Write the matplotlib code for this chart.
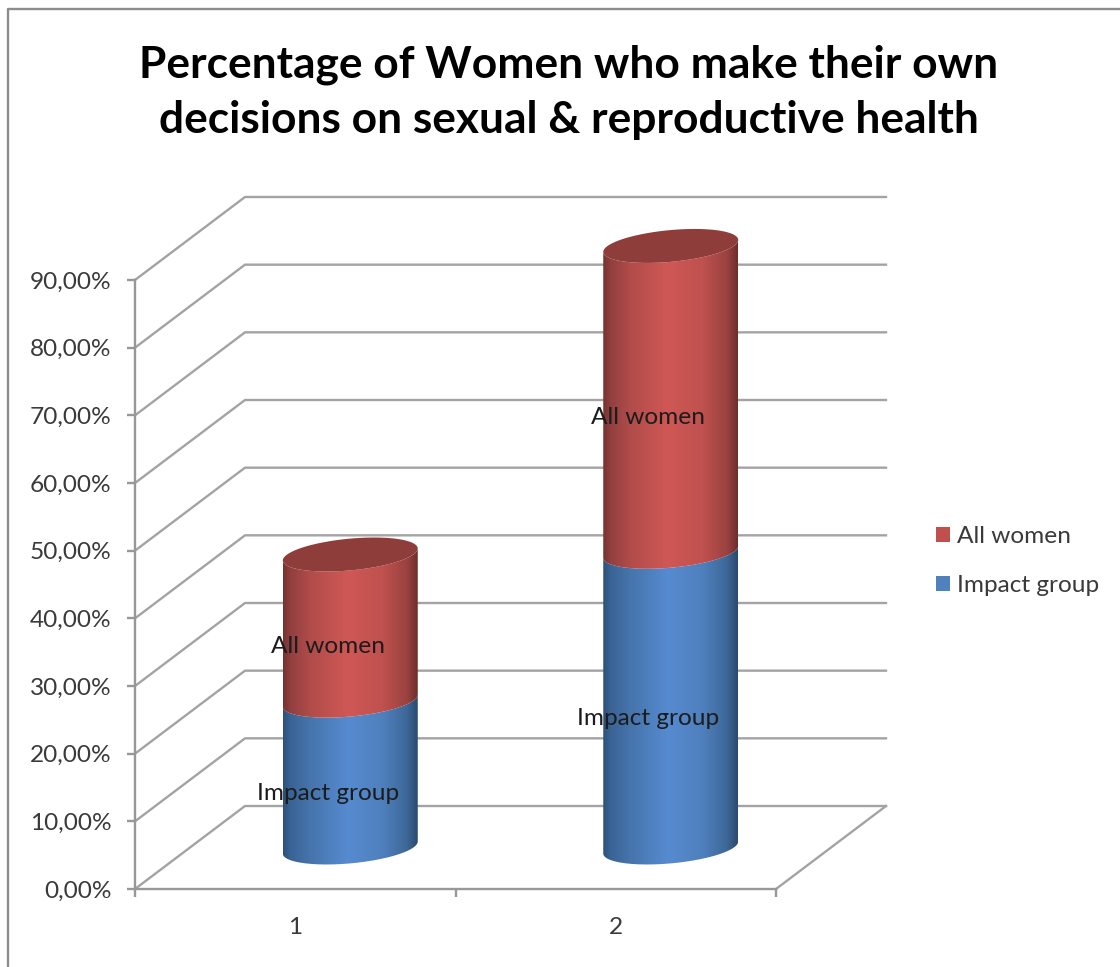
import numpy as np
import matplotlib
matplotlib.use("Agg")
from matplotlib import pyplot as plt
from matplotlib.colors import LinearSegmentedColormap
from matplotlib.lines import Line2D
from matplotlib.patches import Patch, PathPatch, Polygon
from matplotlib.path import Path
from matplotlib.ticker import FuncFormatter

categories = [1, 2]
impact_group = [21.7, 43.7]
all_women = [21.6, 45.2]
y_ticks = [0, 10, 20, 30, 40, 50, 60, 70, 80, 90]
title = "Percentage of Women who make their own\ndecisions on sexual & reproductive health"

W, H = 1120, 967
plt.rcParams["font.family"] = ["Lato", "DejaVu Sans"]

GRID = "#a3a3a3"
AXIS = "#979797"
FS = 17.6

fig = plt.figure(figsize=(W / 100, H / 100), dpi=100)
ax = fig.add_axes([135 / W, (H - 889) / H, 641 / W, 609 / H])
ax.set_xlim(0.5, 2.5)
ax.set_ylim(0, 90)

# size of one pixel in data units
px = 2.0 / 641
py = 90.0 / 609

# 3d depth of the floor
depth_x = 110 * px
depth_y = 83 * py

bar_half = 67.5 * px
ell_b = 15.9 * py
ell_tilt = 6.0 * py

blue_cmap = LinearSegmentedColormap.from_list("blue3d", [
    (0.0, "#2e5179"), (0.06, "#3a6496"), (0.2, "#4674ab"), (0.48, "#568bd0"),
    (0.74, "#4f80bd"), (0.92, "#3d6797"), (1.0, "#2b4a6f")])
red_cmap = LinearSegmentedColormap.from_list("red3d", [
    (0.0, "#763230"), (0.06, "#934040"), (0.2, "#b04c4a"), (0.48, "#cf5855"),
    (0.74, "#bf514e"), (0.92, "#9a4240"), (1.0, "#6c2e2c")])
gradient = np.linspace(0, 1, 256).reshape(1, -1)


def ellipse_arc(cx, cy, t0, t1):
    t = np.linspace(t0, t1, 80)
    return np.column_stack([cx + bar_half * np.cos(t),
                            cy + ell_tilt * np.cos(t) + ell_b * np.sin(t)])


def draw_segment(cx, y0, y1, cmap, z):
    # front face of one cylinder section, shaded from side to side
    lower = ellipse_arc(cx, y0, np.pi, 2 * np.pi)
    upper = ellipse_arc(cx, y1, 2 * np.pi, np.pi)
    verts = np.vstack([lower, upper, lower[:1]])
    im = ax.imshow(gradient, cmap=cmap, aspect="auto", zorder=z,
                   extent=[cx - bar_half, cx + bar_half, y0 - 4, y1 + 4])
    # the tallest bar rises above the y limit, so only the outline clips it
    im.set_clip_box(fig.bbox)
    im.set_clip_path(PathPatch(Path(verts), transform=ax.transData))


# walls and floor
for v in y_ticks:
    ax.plot([0.5, 0.5 + depth_x, 2.5 + depth_x], [v, v + depth_y, v + depth_y],
            color=GRID, lw=1.7, clip_on=False, zorder=1)
ax.plot([2.5, 2.5 + depth_x], [0, depth_y], color=GRID, lw=1.7, clip_on=False, zorder=1)

# cylinders
for i, cat in enumerate(categories):
    cx = cat + depth_x / 2
    base = depth_y / 2
    mid = base + impact_group[i]
    top = mid + all_women[i]
    draw_segment(cx, base, mid, blue_cmap, 3)
    draw_segment(cx, mid, top, red_cmap, 4)
    cap = ellipse_arc(cx, top, 0, 2 * np.pi)
    ax.add_patch(Polygon(cap, closed=True, fc="#8f3d3a", ec="none", zorder=5, clip_on=False))

    # series names sit slightly left of and below each section's middle
    lx = cx - 22.5 * px
    ax.text(lx, base + impact_group[i] / 2 - 19 * py, "Impact group", ha="center", va="center",
            fontsize=FS, color="#1c1c1c", zorder=6)
    ax.text(lx, mid + all_women[i] / 2 - 19 * py, "All women", ha="center", va="center",
            fontsize=FS, color="#1c1c1c", zorder=6)

ax.set_xlim(0.5, 2.5)
ax.set_ylim(0, 90)

# axes
ax.patch.set_visible(False)
for side in ["top", "right"]:
    ax.spines[side].set_visible(False)
for side in ["left", "bottom"]:
    ax.spines[side].set_color(AXIS)
    ax.spines[side].set_linewidth(1.7)
ax.set_yticks(y_ticks)
ax.yaxis.set_major_formatter(FuncFormatter(lambda v, _: f"{v:.2f}%".replace(".", ",")))
ax.set_xticks(categories)
ax.set_xticks([0.5, 1.5, 2.5], minor=True)
ax.tick_params(axis="y", length=6, width=1.7, color=AXIS, pad=11, labelsize=FS, labelcolor="#3a3a3a")
ax.tick_params(axis="x", which="major", length=0, pad=20.5, labelsize=FS, labelcolor="#3a3a3a")
ax.tick_params(axis="x", which="minor", length=6, width=1.7, color=AXIS)

# outer chart border
fig.add_artist(Line2D([8 / W, 8 / W, 1], [0, 1 - 9 / H, 1 - 9 / H], color="#8c8c8c", lw=1.7))

fig.text(569 / W, 1 - 92 / H, title, ha="center", va="center", fontsize=31.9,
         fontweight="bold", color="black", linespacing=1.45)

ax.legend(handles=[Patch(fc="#c0504d", label="All women"), Patch(fc="#4f81bd", label="Impact group")],
          loc="center left", bbox_to_anchor=(936 / W, 1 - 561 / H), bbox_transform=fig.transFigure,
          frameon=False, fontsize=FS, handlelength=0.57, handleheight=0.57, handletextpad=0.28,
          labelspacing=1.14, borderpad=0, borderaxespad=0, labelcolor="#3a3a3a")

fig.savefig("out.png", dpi=100, facecolor="white")
